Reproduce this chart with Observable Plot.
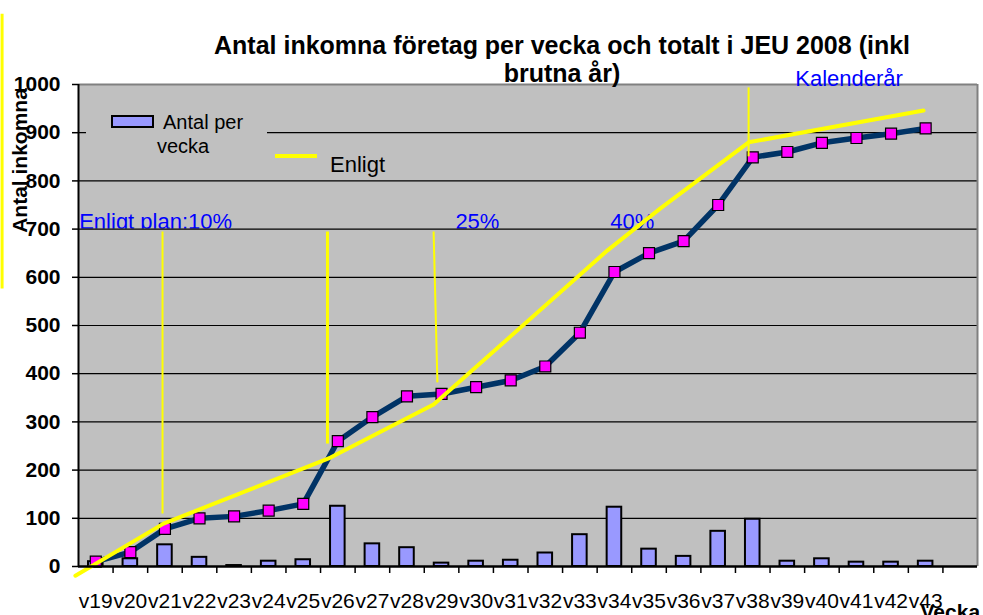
<!DOCTYPE html>
<html>
<head>
<meta charset="utf-8">
<script src="https://cdn.jsdelivr.net/npm/d3@7"></script>
<script src="https://cdn.jsdelivr.net/npm/@observablehq/plot@0.6"></script>
<style>
  html, body { margin: 0; padding: 0; background: #fff; }
  #chart svg { font-family: "Liberation Sans", Arial, sans-serif; display: block; }
</style>
</head>
<body>
<div id="chart"></div>
<script>
// ---- data ----
const weeks = ["v19","v20","v21","v22","v23","v24","v25","v26","v27","v28","v29","v30","v31",
               "v32","v33","v34","v35","v36","v37","v38","v39","v40","v41","v42","v43"];
const weekNums = [19,20,21,22,23,24,25,26,27,28,29,30,31,32,33,34,35,36,37,38,39,40,41,42,43];
const perWeek = [10,16,45,19,2,11,14,125,47,39,7,11,13,28,66,123,36,21,73,98,11,16,9,9,11];
const cumulative = [10,30,78,100,104,116,130,260,310,353,358,372,386,415,485,611,650,675,750,849,860,879,889,898,909];

// "Enligt" (plan) line, hand-drawn in the original
const planWeeks  = [18.41, 20.96, 25.79, 28.77, 33.80, 35.33, 37.88, 42.94];
const planValues = [-19,   89,    226,   336,   656,   743,   880,   946];

// thin yellow guide strokes
const guideX1     = [16.29, 20.93, 25.70, 28.77, 37.88];
const guideX2     = [16.29, 20.93, 25.70, 28.88, 37.88];
const guideTop    = [1147,  695,   695,   695,   994];
const guideBottom = [577,   110,   255,   382,   851];
const guideWidth  = [3,     2,     3,     2,     2];

// blue annotations
const noteTexts = ["Enligt plan:10%", "25%", "40%"];
const noteWeeks = [18.52, 29.40, 33.88];
const noteValues = [700, 700, 700];
const calText = "Kalenderår";
const calWeek = 39.23;
const calValue = 996;

const yTicks = [0,100,200,300,400,500,600,700,800,900,1000];
const titleLine1 = "Antal inkomna företag per vecka och totalt i JEU 2008 (inkl";
const titleLine2 = "brutna år)";
const yLabel = "Antal inkomna";
const xLabel = "Vecka";
const legendBar = ["Antal per", "vecka"];
const legendLine = "Enligt";

// ---- build tables ----
const data = weekNums.map((w, i) => ({w, label: weeks[i], bar: perWeek[i], cum: cumulative[i]}));
const plan = planWeeks.map((w, i) => ({w, v: planValues[i]}));
const guides = guideX1.map((x, i) => ({x1: x, x2: guideX2[i], y1: guideTop[i], y2: guideBottom[i], sw: guideWidth[i]}));
const notes = noteTexts.map((t, i) => ({t, w: noteWeeks[i], v: noteValues[i]}));

const GRAY = "#C0C0C0";
const FONT = "'Liberation Sans', Arial, sans-serif";

// cover under the 700 gridline (annotation text is cut there in the original)
function noteCover(index, scales, values, dims) {
  const g = d3.create("svg:g");
  const y0 = scales.y(700);
  g.append("rect")
    .attr("x", dims.marginLeft + 1).attr("y", y0)
    .attr("width", dims.width - dims.marginLeft - dims.marginRight - 2).attr("height", 8)
    .attr("fill", GRAY);
  return g.node();
}

// legend
function legend(index, scales, values, dims) {
  const g = d3.create("svg:g").attr("font-family", FONT).attr("text-anchor", "start").attr("fill", "#000");
  const L = dims.marginLeft, T = dims.marginTop;
  g.append("rect").attr("x", L + 8).attr("y", T + 20).attr("width", 181).attr("height", 58).attr("fill", GRAY);
  g.append("rect").attr("x", L + 34).attr("y", T + 32).attr("width", 41).attr("height", 11)
    .attr("fill", "#9999FF").attr("stroke", "#000").attr("stroke-width", 2);
  g.append("text").attr("x", L + 85).attr("y", T + 45).attr("font-size", 20).attr("text-anchor", "start").text(legendBar[0]);
  g.append("text").attr("x", L + 79).attr("y", T + 69).attr("font-size", 20).attr("text-anchor", "start").text(legendBar[1]);
  g.append("line").attr("x1", L + 197).attr("x2", L + 239).attr("y1", T + 72).attr("y2", T + 72)
    .attr("stroke", "#FFFF00").attr("stroke-width", 4);
  g.append("text").attr("x", L + 252).attr("y", T + 88).attr("font-size", 22).attr("text-anchor", "start").text(legendLine);
  return g.node();
}

const chart = Plot.plot({
  width: 983,
  height: 615,
  marginLeft: 78,
  marginRight: 6,
  marginTop: 84,
  marginBottom: 49,
  style: {fontFamily: FONT, background: "#ffffff", color: "#000"},
  x: {type: "linear", domain: [18.5, 44.5], axis: null},
  y: {domain: [0, 1000], axis: null},
  marks: [
    Plot.frame({fill: GRAY, stroke: null}),
    Plot.text(notes, {x: "w", y: "v", text: "t", textAnchor: "start", lineAnchor: "bottom",
      fill: "#0000FF", fontSize: 22}),
    noteCover,
    Plot.gridY({ticks: [100,200,300,400,500,600,700,800,900], stroke: "#000", strokeOpacity: 1, strokeWidth: 1.2}),
    legend,
    Plot.rectY(data, {x1: d => d.w - 0.5, x2: d => d.w + 0.5, y: "bar", insetLeft: 10, insetRight: 10,
      fill: "#9999FF", stroke: "#000", strokeWidth: 2}),
    Plot.line(data, {x: "w", y: "cum", stroke: "#003366", strokeWidth: 5.5, strokeLinejoin: "round"}),
    Plot.dot(data, {x: "w", y: "cum", symbol: "square", r: 6.2, fill: "#FF00FF", stroke: "#000", strokeWidth: 1.2}),
    Plot.line(plan, {x: "w", y: "v", stroke: "#FFFF00", strokeWidth: 4}),
    Plot.link(guides, {x1: "x1", x2: "x2", y1: "y1", y2: "y2", stroke: "#FFFF00", strokeWidth: d => d.sw}),
    // borders
    Plot.ruleY([1000], {stroke: "#808080", strokeWidth: 2}),
    Plot.ruleX([44.5], {stroke: "#808080", strokeWidth: 2, y1: 0, y2: 1000}),
    Plot.ruleY([0], {stroke: "#000", strokeWidth: 2.5}),
    Plot.ruleX([18.5], {stroke: "#000", strokeWidth: 2, y1: 0, y2: 1000}),
    // axes
    Plot.axisY({ticks: yTicks, tickSize: 6, tickPadding: 12, fontSize: 21, fontWeight: "bold",
      tickFormat: d => `${d}`, strokeWidth: 1.5, label: null}),
    Plot.axisX({ticks: weekNums.map(w => w + 0.5), tickSize: 7, tickFormat: () => "", strokeWidth: 1.5, label: null}),
    Plot.axisX({ticks: weekNums, tickSize: 0, tickPadding: 27, fontSize: 21,
      tickFormat: d => weeks[weekNums.indexOf(d)], label: null}),
    // titles and labels
    Plot.text([titleLine1], {frameAnchor: "top", dx: 34, dy: -31, lineAnchor: "bottom", fontSize: 25, fontWeight: "bold"}),
    Plot.text([titleLine2], {frameAnchor: "top", dx: 34, dy: -3, lineAnchor: "bottom", fontSize: 25, fontWeight: "bold"}),
    Plot.text([yLabel], {frameAnchor: "top-left", dx: -58, dy: 76, rotate: -90, textAnchor: "middle",
      lineAnchor: "middle", fontSize: 21, fontWeight: "bold"}),
    Plot.text([xLabel], {frameAnchor: "bottom-right", dx: -57, dy: 52, textAnchor: "start", lineAnchor: "bottom",
      fontSize: 21, fontWeight: "bold"}),
    Plot.text([calText], {x: () => calWeek, y: () => calValue, textAnchor: "start", lineAnchor: "bottom",
      fill: "#0000FF", fontSize: 22})
  ]
});

document.getElementById("chart").appendChild(chart);
</script>
</body>
</html>
